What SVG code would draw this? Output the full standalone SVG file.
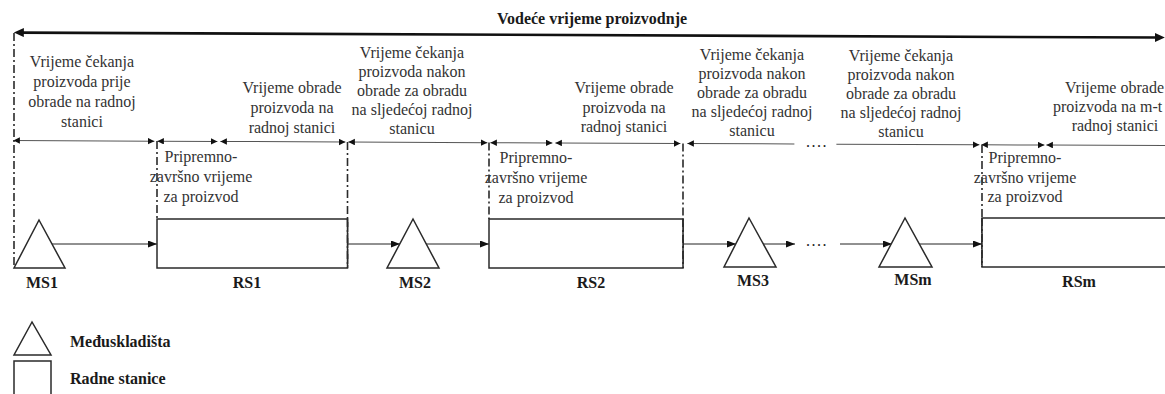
<svg xmlns="http://www.w3.org/2000/svg" width="1165" height="394" viewBox="0 0 1165 394">
  <style>
    .t { font-family: "Liberation Serif", "Times New Roman", serif; font-size: 16px; fill: #333; text-anchor: middle; }
    .b { font-family: "Liberation Serif", "Times New Roman", serif; font-size: 16px; font-weight: bold; fill: #1a1a1a; text-anchor: middle; }
    .lg { font-family: "Liberation Serif", "Times New Roman", serif; font-size: 16px; font-weight: bold; fill: #1a1a1a; }
    .dots { font-family: "Liberation Serif", "Times New Roman", serif; font-size: 16px; fill: #222; letter-spacing: 1.5px; }
    .shape { fill: #fff; stroke: #2a2a2a; stroke-width: 1.5; }
    .flow { stroke: #222; stroke-width: 1; fill: none; marker-end: url(#flowHead); }
    .dim { stroke: #555; stroke-width: 1; fill: none; }
    .dd { stroke: #2a2a2a; stroke-width: 1.6; stroke-dasharray: 8 3 2 3; fill: none; }
  </style>
  <defs>
    <marker id="bigHead" markerUnits="userSpaceOnUse" markerWidth="11" markerHeight="9" refX="4" refY="4.5" orient="auto-start-reverse">
      <path d="M0,0 L10,4.5 L0,9 z" fill="#111"/>
    </marker>
    <marker id="dimHead" markerUnits="userSpaceOnUse" markerWidth="7" markerHeight="7" refX="6.5" refY="3.25" orient="auto-start-reverse">
      <path d="M0,0 L6.5,3.25 L0,6.5 z" fill="#111"/>
    </marker>
    <marker id="flowHead" markerUnits="userSpaceOnUse" markerWidth="10" markerHeight="8" refX="9" refY="3.5" orient="auto">
      <path d="M0,0 L9,3.5 L0,7 z" fill="#111"/>
    </marker>
  </defs>

  <!-- title -->
  <text id="title" class="b" x="592" y="24">Vodeće vrijeme proizvodnje</text>

  <!-- connectors: lead time line, dimension row, vertical guides, flow arrows -->
  <g id="connectors">
    <g transform="rotate(0.25)">
      <line x1="20" y1="32.5" x2="1159" y2="32.5" stroke="#111" stroke-width="2.6" marker-start="url(#bigHead)" marker-end="url(#bigHead)"/>
      <g class="dim">
        <line x1="14" y1="140.5" x2="155" y2="140.5" marker-start="url(#dimHead)" marker-end="url(#dimHead)"/>
        <line x1="158" y1="140.5" x2="218" y2="140.5" marker-start="url(#dimHead)" marker-end="url(#dimHead)"/>
        <line x1="221" y1="140.5" x2="346" y2="140.5" marker-start="url(#dimHead)" marker-end="url(#dimHead)"/>
        <line x1="349" y1="140.5" x2="488" y2="140.5" marker-start="url(#dimHead)" marker-end="url(#dimHead)"/>
        <line x1="491" y1="140.5" x2="553" y2="140.5" marker-start="url(#dimHead)" marker-end="url(#dimHead)"/>
        <line x1="556" y1="140.5" x2="681" y2="140.5" marker-start="url(#dimHead)" marker-end="url(#dimHead)"/>
        <line x1="688" y1="140.5" x2="795" y2="140.5" marker-start="url(#dimHead)"/>
        <line x1="837" y1="140.5" x2="980" y2="140.5" marker-end="url(#dimHead)"/>
        <line x1="982" y1="140.5" x2="1045" y2="140.5" marker-start="url(#dimHead)" marker-end="url(#dimHead)"/>
        <line x1="1047" y1="140.5" x2="1172" y2="140.5" marker-start="url(#dimHead)"/>
      </g>
    </g>
    <text class="dots" x="806" y="147">....</text>

    <g id="guides">
      <line class="dd" x1="14" y1="33" x2="14" y2="268"/>
      <line class="dd" x1="157" y1="141" x2="157" y2="219"/>
      <line class="dd" x1="347.5" y1="142" x2="347.5" y2="268"/>
      <line class="dd" x1="489" y1="142.5" x2="489" y2="219"/>
      <line class="dd" x1="683" y1="143.5" x2="683" y2="268"/>
      <line class="dd" x1="982" y1="145" x2="982" y2="267"/>
    </g>

    <g id="flow">
      <line class="flow" x1="52" y1="244" x2="157" y2="244"/>
      <line class="flow" x1="348" y1="244" x2="400" y2="244"/>
      <line class="flow" x1="426" y1="244" x2="489" y2="244"/>
      <line class="flow" x1="683" y1="244" x2="736" y2="244"/>
      <line class="flow" x1="762" y1="244" x2="795" y2="244"/>
      <line class="flow" x1="840" y1="244" x2="892" y2="244"/>
      <line class="flow" x1="918" y1="244" x2="982" y2="244"/>
    </g>
    <text class="dots" x="806" y="246">....</text>
  </g>

  <!-- nodes -->
  <g id="MS1">
    <polygon class="shape" points="39,220 14,268 65,268"/>
    <text class="b" x="42" y="288">MS1</text>
  </g>
  <g id="RS1">
    <rect class="shape" x="157" y="219" width="190.5" height="49"/>
    <line class="dd" x1="347.5" y1="219" x2="347.5" y2="268"/>
    <text class="b" x="247" y="288">RS1</text>
  </g>
  <g id="MS2">
    <polygon class="shape" points="413,219 387,268 439,268"/>
    <text class="b" x="415" y="288">MS2</text>
  </g>
  <g id="RS2">
    <rect class="shape" x="489" y="219" width="194" height="49"/>
    <line class="dd" x1="683" y1="219" x2="683" y2="268"/>
    <text class="b" x="591" y="288">RS2</text>
  </g>
  <g id="MS3">
    <polygon class="shape" points="749,218 724,267 776,267"/>
    <text class="b" x="753" y="286">MS3</text>
  </g>
  <g id="MSm">
    <polygon class="shape" points="905,218 879,267 932,267"/>
    <text class="b" x="913" y="285">MSm</text>
  </g>
  <g id="RSm">
    <rect class="shape" x="982" y="218" width="200" height="49"/>
    <line class="dd" x1="982" y1="218" x2="982" y2="267"/>
    <text class="b" x="1079" y="287">RSm</text>
  </g>

  <!-- time labels -->
  <g id="label-wait1">
    <text class="t" x="82" y="67">Vrijeme čekanja</text>
    <text class="t" x="82" y="87">proizvoda prije</text>
    <text class="t" x="82" y="107">obrade na radnoj</text>
    <text class="t" x="82" y="127">stanici</text>
  </g>
  <g id="label-proc1">
    <text class="t" x="292" y="93">Vrijeme obrade</text>
    <text class="t" x="292" y="113">proizvoda na</text>
    <text class="t" x="292" y="133">radnoj stanici</text>
  </g>
  <g id="label-wait2">
    <text class="t" x="412" y="58">Vrijeme čekanja</text>
    <text class="t" x="412" y="77">proizvoda nakon</text>
    <text class="t" x="412" y="96">obrade za obradu</text>
    <text class="t" x="412" y="115">na sljedećoj radnoj</text>
    <text class="t" x="412" y="134">stanicu</text>
  </g>
  <g id="label-proc2">
    <text class="t" x="624" y="93">Vrijeme obrade</text>
    <text class="t" x="624" y="113">proizvoda na</text>
    <text class="t" x="624" y="132">radnoj stanici</text>
  </g>
  <g id="label-wait3">
    <text class="t" x="752" y="60">Vrijeme čekanja</text>
    <text class="t" x="752" y="79">proizvoda nakon</text>
    <text class="t" x="752" y="98">obrade za obradu</text>
    <text class="t" x="752" y="117">na sljedećoj radnoj</text>
    <text class="t" x="752" y="136">stanicu</text>
  </g>
  <g id="label-wait4">
    <text class="t" x="901" y="61">Vrijeme čekanja</text>
    <text class="t" x="901" y="80">proizvoda nakon</text>
    <text class="t" x="901" y="99">obrade za obradu</text>
    <text class="t" x="901" y="118">na sljedećoj radnoj</text>
    <text class="t" x="901" y="137">stanicu</text>
  </g>
  <g id="label-procm">
    <text class="t" x="1065" y="93" text-anchor="start" style="text-anchor:start">Vrijeme obrade</text>
    <text class="t" x="1053" y="112" style="text-anchor:start">proizvoda na m-t</text>
    <text class="t" x="1115" y="131">radnoj stanici</text>
  </g>
  <g id="label-setup1">
    <text class="t" x="201" y="162">Pripremno-</text>
    <text class="t" x="201" y="182">završno vrijeme</text>
    <text class="t" x="201" y="202">za proizvod</text>
  </g>
  <g id="label-setup2">
    <text class="t" x="536" y="163">Pripremno-</text>
    <text class="t" x="536" y="183">završno vrijeme</text>
    <text class="t" x="536" y="203">za proizvod</text>
  </g>
  <g id="label-setupm">
    <text class="t" x="1025" y="163">Pripremno-</text>
    <text class="t" x="1025" y="183">završno vrijeme</text>
    <text class="t" x="1025" y="202">za proizvod</text>
  </g>

  <!-- legend -->
  <g id="legend-buffer">
    <polygon class="shape" points="32,322 14,355 51,355"/>
    <text class="lg" x="70" y="347">Međuskladišta</text>
  </g>
  <g id="legend-station">
    <rect class="shape" x="14" y="361" width="37" height="40"/>
    <text class="lg" x="70" y="384">Radne stanice</text>
  </g>
</svg>
